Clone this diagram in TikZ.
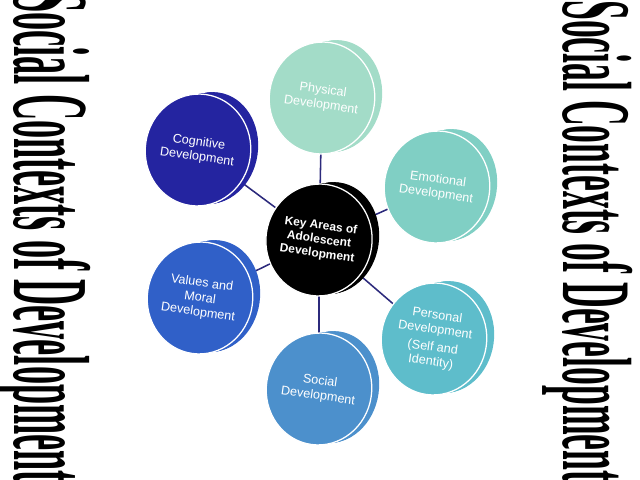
\documentclass[tikz,border=0pt]{standalone}
\usepackage{fontspec}
\setmainfont{Liberation Serif}
\setsansfont{Liberation Sans}
\usetikzlibrary{shapes.geometric,backgrounds}

\definecolor{physcol}{HTML}{A3DCC8}
\definecolor{emocol}{HTML}{80CFC4}
\definecolor{perscol}{HTML}{5EBDCB}
\definecolor{soccol}{HTML}{4C90CC}
\definecolor{valcol}{HTML}{3060C8}
\definecolor{cogcol}{HTML}{2424A0}
\definecolor{linkcol}{HTML}{2C2A7C}

\tikzset{
  face/.style={ellipse, minimum width=2.35cm, minimum height=2.8cm, inner sep=0pt,
    draw=white, line width=0.9pt, rotate=-8, text=white, align=center,
    font=\sffamily\fontsize{9}{10.5}\selectfont},
  keyface/.style={face, fill=black, font=\sffamily\bfseries\fontsize{8.5}{10}\selectfont},
  link/.style={draw=linkcol, line width=1.1pt},
  sidetitle/.style={rotate=-90, anchor=base west, inner sep=0pt}
}

\begin{document}
\begin{tikzpicture}[x=0.025cm, y=-0.025cm]
\def\discside#1#2#3{\foreach \k in {0,...,13} \fill[#3, shift={(#1+\k,#2-0.15*\k)}, rotate=-8] (0,0) ellipse (47 and 56);}

\useasboundingbox (0,0) rectangle (640,480);

\node[sidetitle, font=\bfseries\fontsize{77}{80}\selectfont] (lefttitle) at (15,-8)
  {\scalebox{0.335}[1]{Social Contexts of Development}};
\node[sidetitle, font=\bfseries\fontsize{70}{72}\selectfont] (righttitle) at (563,0)
  {\scalebox{0.362}[1]{Social Contexts of Development}};


\discside{319}{240}{black}
\node[keyface] (keyareas) at (319,240) {Key Areas of\\Adolescent\\Development};

\discside{322}{98}{physcol}
\node[face, fill=physcol] (physical) at (322,98) {Physical\\Development};

\discside{437}{187}{emocol}
\node[face, fill=emocol] (emotional) at (437,187) {Emotional\\Development};

\discside{434}{339}{perscol}
\node[face, fill=perscol] (personal) at (434,339) {Personal\\Development\\[2pt](Self and\\Identity)};

\discside{319}{389}{soccol}
\node[face, fill=soccol] (social) at (319,389) {Social\\Development};

\discside{200}{298}{valcol}
\node[face, fill=valcol] (values) at (200,298) {Values and\\Moral\\Development};

\discside{198}{150}{cogcol}
\node[face, fill=cogcol] (cognitive) at (198,150) {Cognitive\\Development};


\begin{scope}[on background layer]
\foreach \area in {physical,emotional,personal,social,values,cognitive}
  \draw[link] (keyareas.center) -- (\area.center);
\end{scope}

\end{tikzpicture}
\end{document}
